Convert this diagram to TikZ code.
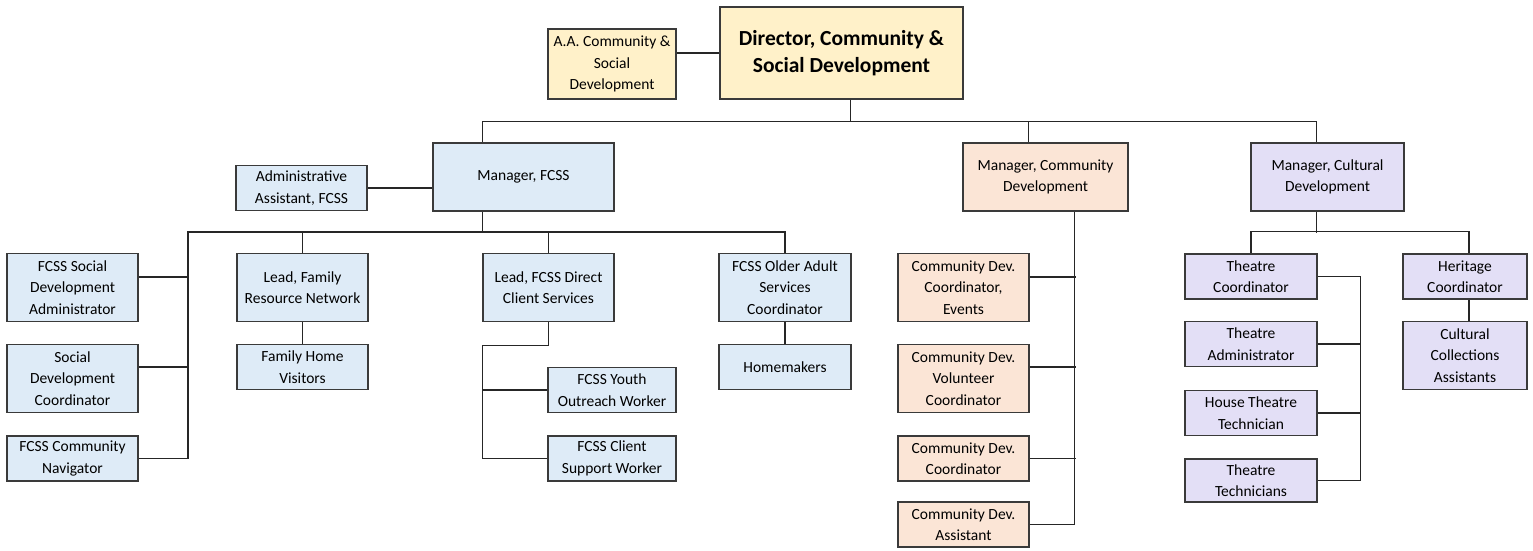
\documentclass[tikz,border=0pt]{standalone}
\usepackage{fontspec}
\setmainfont{Carlito}
\usepackage{xcolor}
\usepackage{tikz}
\usetikzlibrary{positioning}
\definecolor{boxline}{HTML}{3A3A3A}
\definecolor{headfill}{HTML}{FFF1C9}
\definecolor{fcssfill}{HTML}{DEEBF7}
\definecolor{commfill}{HTML}{FBE5D6}
\definecolor{cultfill}{HTML}{E3DFF6}
\tikzstyle{post}=[rectangle, draw=boxline, line width=1.2pt, inner sep=0pt, minimum width=131pt, minimum height=45pt, align=center, font=\fontsize{15.5}{21.5}\selectfont]
\tikzstyle{tall}=[minimum height=68pt]
\tikzstyle{head}=[fill=headfill]
\tikzstyle{fcss}=[fill=fcssfill]
\tikzstyle{comm}=[fill=commfill]
\tikzstyle{cult}=[fill=cultfill]
\tikzstyle{link}=[draw=black!85, line width=1.2pt]

\begin{document}
\begin{tikzpicture}[x=1pt, y=-1pt]
    \useasboundingbox (0,0) rectangle (1533,550);

    % top
    \node[post, head, minimum width=243pt, minimum height=92pt, font=\fontsize{21.5}{27}\selectfont\bfseries] (dir) at (841.5,53) {Director, Community \&\\Social Development};
    \node[post, head, minimum width=128pt, minimum height=70pt] (aa) at (612,64) {A.A. Community \&\\Social\\Development};

    % managers
    \node[post, fcss, tall, minimum width=181pt] (mfcss)  at (523.5,177)  {Manager, FCSS};
    \node[post, fcss]                            (aafcss) at (301.5,188)  {Administrative\\Assistant, FCSS};
    \node[post, comm, tall, minimum width=165pt] (mcomm)  at (1045.5,177) {Manager, Community\\Development};
    \node[post, cult, tall, minimum width=153pt] (mcult)  at (1327.5,177) {Manager, Cultural\\Development};

    % fcss
    \node[post, fcss, tall] (sdadmin) at (72.5,287.5)  {FCSS Social\\Development\\Administrator};
    \node[post, fcss, tall] (sdcoord) at (72.5,378.5)  {Social\\Development\\Coordinator};
    \node[post, fcss]       (sdnav)   at (72.5,458.5)  {FCSS Community\\Navigator};
    \node[post, fcss, tall] (leadfam) at (302.5,287.5) {Lead, Family\\Resource Network};
    \node[post, fcss]       (famhome) at (302.5,367)   {Family Home\\Visitors};
    \node[post, fcss, tall] (leaddir) at (548.5,287.5) {Lead, FCSS Direct\\Client Services};
    \node[post, fcss, minimum width=128pt] (youth)  at (612,390)   {FCSS Youth\\Outreach Worker};
    \node[post, fcss, minimum width=128pt] (client) at (612,458.5) {FCSS Client\\Support Worker};
    \node[post, fcss, tall, minimum width=132pt] (older) at (785,287.5) {FCSS Older Adult\\Services\\Coordinator};
    \node[post, fcss, minimum width=132pt]       (homem) at (785,367)   {Homemakers};

    % community
    \node[post, comm, tall] (cdevents) at (963.5,287.5) {Community Dev.\\Coordinator,\\Events};
    \node[post, comm, tall] (cdvol)    at (963.5,378.5) {Community Dev.\\Volunteer\\Coordinator};
    \node[post, comm]       (cdcoord)  at (963.5,458.5) {Community Dev.\\Coordinator};
    \node[post, comm]       (cdasst)   at (963.5,524.5) {Community Dev.\\Assistant};

    % cultural
    \node[post, cult, minimum width=132pt] (thcoord) at (1251,276.5) {Theatre\\Coordinator};
    \node[post, cult, minimum width=132pt] (thadmin) at (1251,344)   {Theatre\\Administrator};
    \node[post, cult, minimum width=132pt] (thhouse) at (1251,413)   {House Theatre\\Technician};
    \node[post, cult, minimum width=132pt, minimum height=43pt] (thtech) at (1251,480.5) {Theatre\\Technicians};
    \node[post, cult, minimum width=124pt]       (heritage) at (1465,276.5) {Heritage\\Coordinator};
    \node[post, cult, tall, minimum width=124pt] (collect)  at (1465,355.5) {Cultural\\Collections\\Assistants};

    \coordinate (fbus) at (188,232);

    \draw[link] (dir.west) -- (dir.west -| aa.east);
    \draw[link] ([xshift=131pt]dir.south west) -- ++(0,22) -| ([xshift=50pt]mfcss.north west);
    \draw[link] ([xshift=131pt]dir.south west) -- ++(0,22) -| ([xshift=66pt]mcomm.north west);
    \draw[link] ([xshift=131pt]dir.south west) -- ++(0,22) -| ([xshift=66pt]mcult.north west);

    \draw[link] (aafcss.east) -- (aafcss.east -| mfcss.west);
    \draw[link] ([xshift=50pt]mfcss.south west) -- ++(0,21);
    \draw[link] (older.north) |- (fbus) |- (sdnav.east);
    \draw[link] ([yshift=10.5pt]sdadmin.east) -- ++(50,0);
    \draw[link] ([yshift=11.5pt]sdcoord.east) -- ++(50,0);
    \draw[link] (leadfam.north) -- (leadfam.north |- fbus);
    \draw[link] (leaddir.north) -- (leaddir.north |- fbus);
    \draw[link] (leadfam.south) -- (famhome.north);
    \draw[link] (older.south) -- (homem.north);
    \draw[link] (leaddir.south) -- ++(0,23) -| ([xshift=-65pt]client.west) -- (client.west);
    \draw[link] (youth.west) -- ++(-65,0);

    \draw[link] ([xshift=112pt]mcomm.south west) |- (cdasst.east);
    \draw[link] ([yshift=10.5pt]cdevents.east) -- ++(46,0);
    \draw[link] ([yshift=11.5pt]cdvol.east) -- ++(46,0);
    \draw[link] (cdcoord.east) -- ++(46,0);

    \draw[link] ([xshift=66pt]mcult.south west) -- ++(0,21);
    \draw[link] (thcoord.north) -- ++(0,-22) -| ([xshift=4pt]heritage.north);
    \draw[link] ([xshift=4pt]heritage.south) -- ([xshift=4pt]collect.north);
    \draw[link] (thcoord.east) -- ++(43,0) |- (thtech.east);
    \draw[link] (thadmin.east) -- ++(43,0);
    \draw[link] (thhouse.east) -- ++(43,0);
  \end{tikzpicture}
\end{document}
